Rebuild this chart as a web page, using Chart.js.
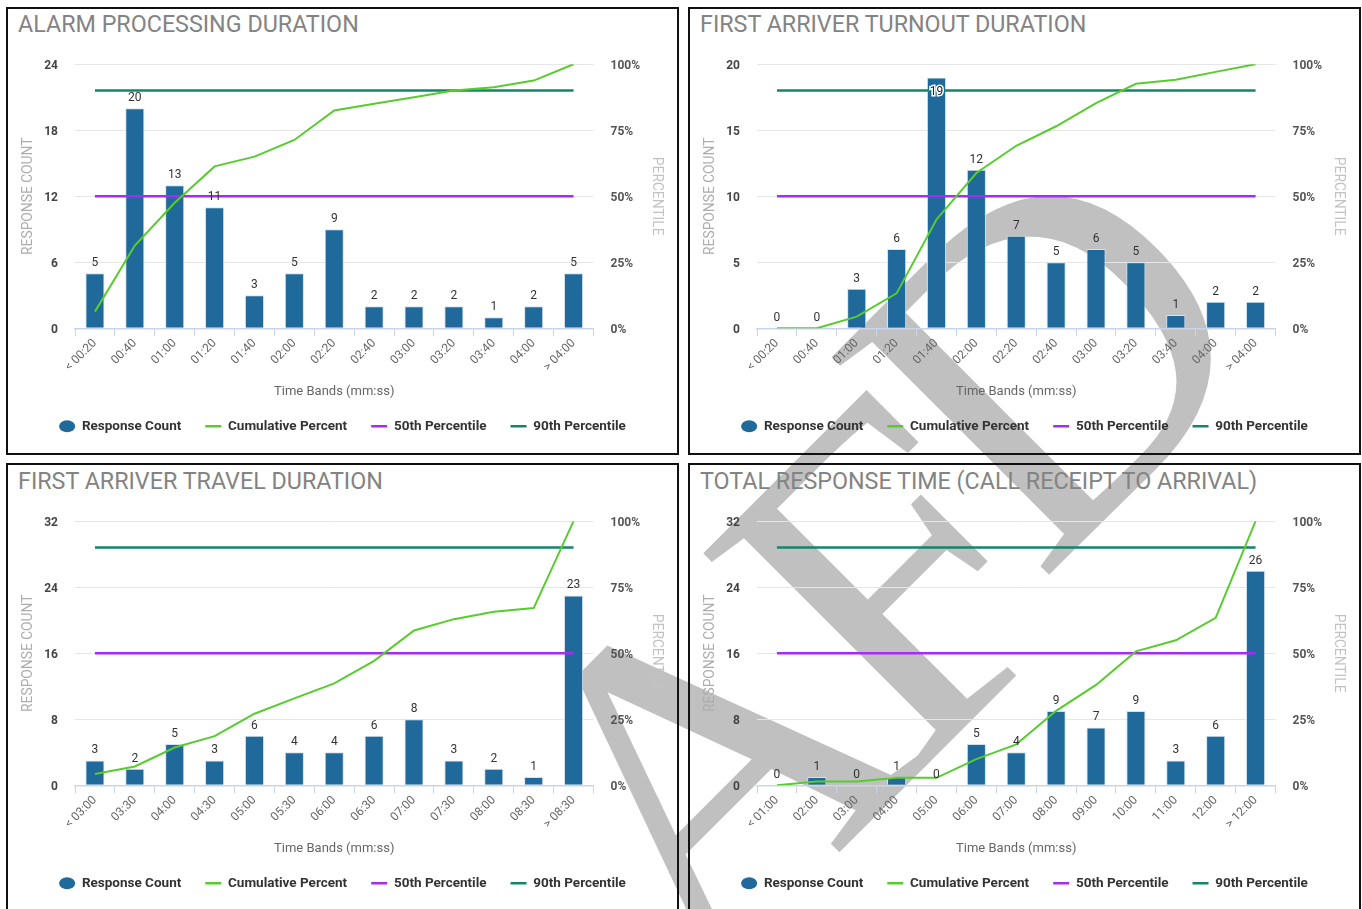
<!DOCTYPE html>
<html>
<head>
<meta charset="utf-8">
<script src="https://cdn.jsdelivr.net/npm/chart.js@4.4.0/dist/chart.umd.min.js"></script>
<style>
  html, body { margin: 0; padding: 0; background: #fff; width: 1362px; height: 909px; overflow: hidden; font-family: Roboto, sans-serif; }
  #watermark { position: absolute; left: 416px; top: 720px; font: 470px/1 'Liberation Serif', serif; letter-spacing: -32px; color: #c0c0c0; transform-origin: 0 0; transform: rotate(-45deg); white-space: nowrap; }
  #watermark span { position: relative; top: -48px; }
  .panel { position: absolute; width: 673px; height: 448px; border: 2px solid #111; box-sizing: border-box; }
  .panel h2 { position: absolute; left: 10px; top: 4px; margin: 0; font: 400 23.3px/23px Roboto, sans-serif; color: #838383; white-space: nowrap; }
  .panel canvas { position: absolute; left: 0; top: 31px; }
  .panel.low h2 { top: 5px; }
  .panel.low canvas { top: 32px; }
</style>
</head>
<body>
<div id="watermark">AF<span>D</span></div>

<div class="panel" style="left:6px;top:7px">
  <h2>ALARM PROCESSING DURATION</h2>
  <canvas id="alarmChart" width="669" height="403"></canvas>
</div>
<div class="panel" style="left:688px;top:7px">
  <h2>FIRST ARRIVER TURNOUT DURATION</h2>
  <canvas id="turnoutChart" width="669" height="403"></canvas>
</div>
<div class="panel low" style="left:6px;top:463px">
  <h2>FIRST ARRIVER TRAVEL DURATION</h2>
  <canvas id="travelChart" width="669" height="403"></canvas>
</div>
<div class="panel low" style="left:688px;top:463px">
  <h2>TOTAL RESPONSE TIME (CALL RECEIPT TO ARRIVAL)</h2>
  <canvas id="totalChart" width="669" height="403"></canvas>
</div>

<script>
// time bands (mm:ss)
const shortBands = ['< 00:20', '00:40', '01:00', '01:20', '01:40', '02:00', '02:20', '02:40', '03:00', '03:20', '03:40', '04:00', '> 04:00'];
const travelBands = ['< 03:00', '03:30', '04:00', '04:30', '05:00', '05:30', '06:00', '06:30', '07:00', '07:30', '08:00', '08:30', '> 08:30'];
const totalBands = ['< 01:00', '02:00', '03:00', '04:00', '05:00', '06:00', '07:00', '08:00', '09:00', '10:00', '11:00', '12:00', '> 12:00'];

// response counts
const alarmCounts = [5, 20, 13, 11, 3, 5, 9, 2, 2, 2, 1, 2, 5];
const turnoutCounts = [0, 0, 3, 6, 19, 12, 7, 5, 6, 5, 1, 2, 2];
const travelCounts = [3, 2, 5, 3, 6, 4, 4, 6, 8, 3, 2, 1, 23];
const totalCounts = [0, 1, 0, 1, 0, 5, 4, 9, 7, 9, 3, 6, 26];

// cumulative percent
const alarmCumulative = [6.3, 31.3, 47.5, 61.3, 65, 71.3, 82.5, 85, 87.5, 90, 91.3, 93.8, 100];
const turnoutCumulative = [0, 0, 4.4, 13.2, 41.2, 58.8, 69.1, 76.5, 85.3, 92.6, 94.1, 97.1, 100];
const travelCumulative = [4.3, 7.1, 14.3, 18.6, 27.1, 32.9, 38.6, 47.1, 58.6, 62.9, 65.7, 67.1, 100];
const totalCumulative = [0, 1.4, 1.4, 2.8, 2.8, 9.9, 15.5, 28.2, 38, 50.7, 54.9, 63.4, 100];

// left axis ranges [max, step]
const alarmAxis = [24, 6];
const turnoutAxis = [20, 5];
const travelAxis = [32, 8];
const totalAxis = [32, 8];

// percentile reference lines
const pct50 = 50;
const pct90 = 90;

// 値ラベル（棒の上）
const barValueLabels = {
    id: 'barValueLabels',
    afterDatasetsDraw(chart) {
        const { ctx, chartArea } = chart;
        const meta = chart.getDatasetMeta(0);
        const values = chart.data.datasets[0].data;
        ctx.save();
        ctx.font = '12px Roboto, sans-serif';
        ctx.textAlign = 'center';
        ctx.textBaseline = 'alphabetic';
        meta.data.forEach((bar, i) => {
            const text = String(values[i]);
            if (bar.y - 20 < chartArea.top) {
                // 上に余白がないときは棒の中に描く
                ctx.lineWidth = 3;
                ctx.strokeStyle = '#fff';
                ctx.strokeText(text, bar.x, bar.y + 18);
                ctx.fillStyle = '#222';
                ctx.fillText(text, bar.x, bar.y + 18);
            } else {
                ctx.fillStyle = '#333';
                ctx.fillText(text, bar.x, bar.y - 7);
            }
        });
        ctx.restore();
    }
};

function renderChart(id, bands, counts, cumulative, axis) {
    const ctx = document.getElementById(id).getContext('2d');
    const flat = v => bands.map(() => v);

    new Chart(ctx, {
        data: {
            labels: bands,
            datasets: [
                {
                    type: 'bar',
                    label: 'Response Count',
                    data: counts,
                    yAxisID: 'y',
                    backgroundColor: '#1f6a9b',
                    borderColor: '#d3e1ee',
                    borderWidth: 1,
                    barPercentage: 0.48,
                    categoryPercentage: 1,
                    order: 2
                },
                {
                    type: 'line',
                    label: 'Cumulative Percent',
                    data: cumulative,
                    yAxisID: 'y1',
                    borderColor: '#58cc2e',
                    backgroundColor: '#58cc2e',
                    borderWidth: 2,
                    pointRadius: 0,
                    tension: 0,
                    order: 1
                },
                {
                    type: 'line',
                    label: '50th Percentile',
                    data: flat(pct50),
                    yAxisID: 'y1',
                    borderColor: '#a52cf2',
                    backgroundColor: '#a52cf2',
                    borderWidth: 2.5,
                    pointRadius: 0,
                    order: 1
                },
                {
                    type: 'line',
                    label: '90th Percentile',
                    data: flat(pct90),
                    yAxisID: 'y1',
                    borderColor: '#13866a',
                    backgroundColor: '#13866a',
                    borderWidth: 2.5,
                    pointRadius: 0,
                    order: 1
                }
            ]
        },
        options: {
            responsive: false,
            animation: false,
            layout: { padding: { top: 23.5, left: 0, right: 0, bottom: 0 } },
            scales: {
                x: {
                    offset: true,
                    grid: { display: true, drawOnChartArea: false, drawTicks: true, tickLength: 8, color: '#c9d4ea', offset: true },
                    border: { display: true, color: '#c9d4ea', width: 1.5 },
                    ticks: {
                        font: { family: 'Roboto', size: 12 },
                        color: '#666',
                        minRotation: 45,
                        maxRotation: 45,
                        padding: 0,
                        autoSkip: false
                    },
                    title: {
                        display: true,
                        text: 'Time Bands (mm:ss)',
                        font: { family: 'Roboto', size: 13, lineHeight: 1 },
                        color: '#666',
                        padding: { top: 0, bottom: -3 }
                    },
                    afterFit: s => { s.height = 67.25; }
                },
                y: {
                    position: 'left',
                    min: 0,
                    max: axis[0],
                    ticks: { stepSize: axis[1], font: { family: 'Roboto', size: 12, weight: 'bold' }, color: '#444', padding: 17, labelOffset: 1.5 },
                    grid: { color: '#e6e6e6', drawTicks: false },
                    border: { display: false },
                    title: {
                        display: true,
                        text: 'RESPONSE COUNT',
                        font: { family: 'Roboto', size: 13.8 },
                        color: '#adadad',
                        padding: { top: 12, bottom: 0 }
                    },
                    afterFit: s => { s.width = 67; }
                },
                y1: {
                    position: 'right',
                    min: 0,
                    max: 100,
                    ticks: {
                        stepSize: 25,
                        callback: v => v + '%',
                        font: { family: 'Roboto', size: 12, weight: 'bold' },
                        color: '#555',
                        padding: 17,
                        labelOffset: 1.5
                    },
                    grid: { display: false, drawTicks: false },
                    border: { display: false },
                    title: {
                        display: true,
                        text: 'PERCENTILE',
                        font: { family: 'Roboto', size: 13.8 },
                        color: '#c2c2c2',
                        padding: { top: 12, bottom: 0 }
                    },
                    afterFit: s => { s.width = 83.5; }
                }
            },
            plugins: {
                tooltip: { enabled: false },
                legend: {
                    position: 'bottom',
                    labels: {
                        usePointStyle: true,
                        pointStyleWidth: 16,
                        boxHeight: 8.5,
                        padding: 24,
                        color: '#333',
                        font: { family: 'Roboto', size: 13.5, weight: 'bold' },
                        sort: (a, b) => a.datasetIndex - b.datasetIndex,
                        generateLabels: chart => Chart.defaults.plugins.legend.labels.generateLabels(chart).map(item => {
                            const ds = chart.data.datasets[item.datasetIndex];
                            if (ds.type === 'bar') {
                                item.pointStyle = 'circle';
                                item.fillStyle = ds.backgroundColor;
                                item.strokeStyle = ds.backgroundColor;
                                item.lineWidth = 0;
                            } else {
                                item.pointStyle = 'line';
                                item.strokeStyle = ds.borderColor;
                                item.lineWidth = 2.5;
                            }
                            return item;
                        })
                    }
                }
            }
        },
        plugins: [barValueLabels]
    });
}

renderChart('alarmChart', shortBands, alarmCounts, alarmCumulative, alarmAxis);
renderChart('turnoutChart', shortBands, turnoutCounts, turnoutCumulative, turnoutAxis);
renderChart('travelChart', travelBands, travelCounts, travelCumulative, travelAxis);
renderChart('totalChart', totalBands, totalCounts, totalCumulative, totalAxis);
</script>
</body>
</html>
